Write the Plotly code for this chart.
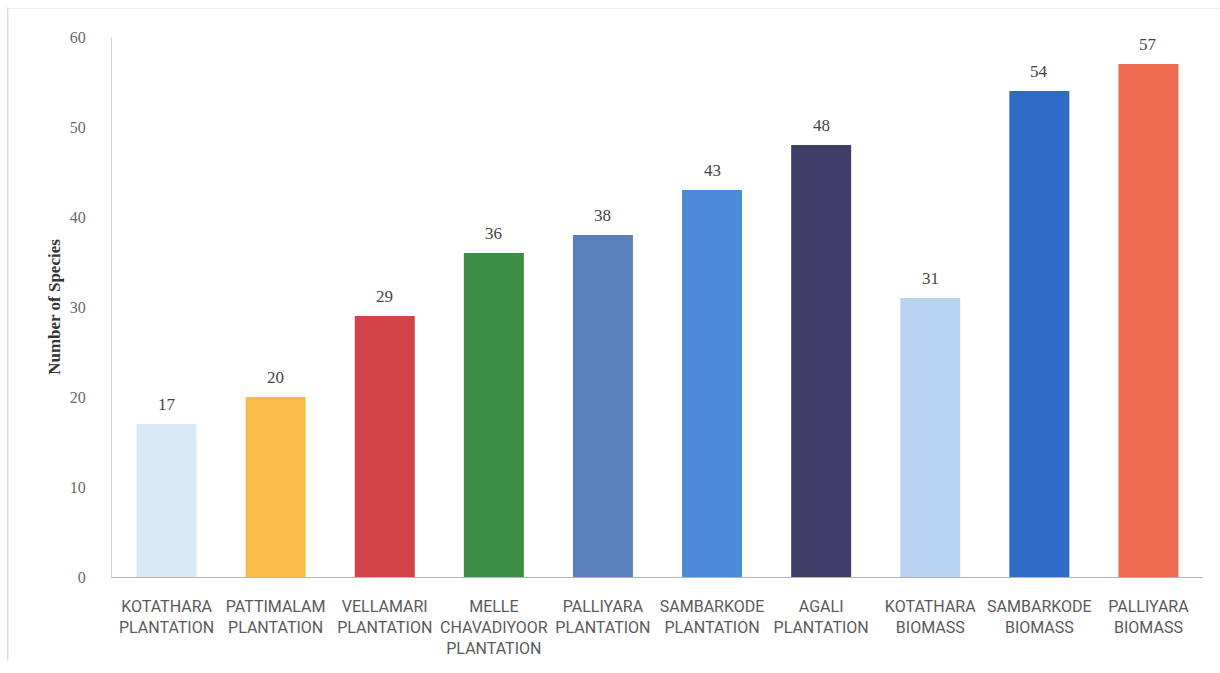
import plotly.graph_objects as go

# Species counts per site
sites = [
    "KOTATHARA<br>PLANTATION",
    "PATTIMALAM<br>PLANTATION",
    "VELLAMARI<br>PLANTATION",
    "MELLE<br>CHAVADIYOOR<br>PLANTATION",
    "PALLIYARA<br>PLANTATION",
    "SAMBARKODE<br>PLANTATION",
    "AGALI<br>PLANTATION",
    "KOTATHARA<br>BIOMASS",
    "SAMBARKODE<br>BIOMASS",
    "PALLIYARA<br>BIOMASS",
]
species = [17, 20, 29, 36, 38, 43, 48, 31, 54, 57]
bar_colors = [
    "#d9e8f7", "#fbbb48", "#d2444a", "#3b8e43", "#5a80bb",
    "#4a8ad6", "#403e68", "#b8d2f0", "#2e6bc4", "#ee6b52",
]
y_ticks = [0, 10, 20, 30, 40, 50, 60]

SERIF = "Liberation Serif, Times New Roman, serif"

fig = go.Figure(
    go.Bar(
        x=sites,
        y=species,
        marker=dict(color=bar_colors, line=dict(width=0)),
        width=0.55,
        hoverinfo="x+y",
    )
)

# value labels above each bar
for s, v in zip(sites, species):
    fig.add_annotation(
        x=s, y=v, text=str(v), showarrow=False,
        yanchor="bottom", yshift=8,
        font=dict(family=SERIF, size=17, color="#444444"),
    )

# thin frame lines along the left and top edges of the page
fig.add_shape(type="line", xref="paper", yref="paper",
              x0=-0.0955, x1=-0.0955, y0=-0.155, y1=1.055,
              line=dict(color="#cfcfcf", width=1))
fig.add_shape(type="line", xref="paper", yref="paper",
              x0=-0.0955, x1=1.02, y0=1.053, y1=1.053,
              line=dict(color="#ececec", width=1))

fig.update_layout(
    width=1220, height=673,
    margin=dict(l=112, r=17, t=37, b=96, autoexpand=False),
    paper_bgcolor="white",
    plot_bgcolor="white",
    showlegend=False,
    xaxis=dict(
        showgrid=False,
        showline=True, linecolor="#b5b5b5", linewidth=1,
        ticks="", ticklabelstandoff=15,
        tickfont=dict(family="Roboto, sans-serif", size=16, color="#5a5a5a"),
        range=[-0.5, 9.5],
    ),
    yaxis=dict(
        range=[0, 60],
        tickvals=y_ticks,
        showgrid=False,
        zeroline=False,
        showline=True, linecolor="#d5d5d5", linewidth=1,
        ticks="", ticklabelstandoff=22,
        tickfont=dict(family=SERIF, size=16, color="#6a6a6a"),
        title=dict(text="<b>Number of Species</b>", standoff=4,
                   font=dict(family=SERIF, size=17, color="#333333")),
    ),
)

fig.write_html("out.html")
